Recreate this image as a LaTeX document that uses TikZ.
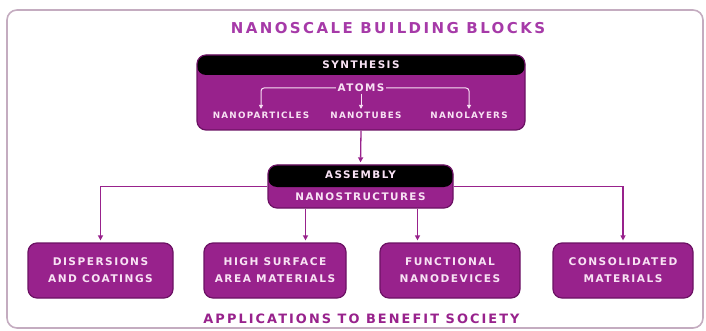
\documentclass[tikz,border=0pt]{standalone}
\usepackage{fontspec}
\setmainfont{DejaVu Sans}
\newfontfamily\blockfont[LetterSpace=14]{DejaVu Sans}
\newfontfamily\titlefont[LetterSpace=16]{DejaVu Sans}
\usetikzlibrary{arrows.meta}
\definecolor{nanopurple}{RGB}{152,34,140}
\definecolor{nanodark}{RGB}{108,18,100}
\definecolor{nanopale}{RGB}{248,226,244}
\definecolor{nanoframe}{RGB}{196,172,192}
\definecolor{nanotitle}{RGB}{166,58,168}
\tikzset{
  stage/.style={draw=nanodark,line width=1.2pt,fill=nanopurple,rounded corners=9pt,inner sep=0pt},
  band/.style={path picture={\fill[black] (path picture bounding box.north west) rectangle ([yshift=-#1]path picture bounding box.north east);}},
  lbl/.style={text=nanopale,inner sep=1.5pt,font=\blockfont\bfseries\fontsize{8.8}{10}\selectfont},
  headlbl/.style={lbl,font=\blockfont\bfseries\fontsize{10.4}{12}\selectfont},
  app/.style={stage,minimum width=#1,minimum height=55pt,align=center,text=nanopale,
    font=\blockfont\bfseries\fontsize{10.6}{17}\selectfont},
  conn/.style={draw=nanopurple,line width=1.3pt,shorten >=2pt,-{Triangle[length=5pt,width=5pt]}},
  inconn/.style={draw=nanopale,line width=1pt,rounded corners=3pt,shorten >=1pt,-{Triangle[length=4pt,width=4pt]}}
}
\begin{document}
\begin{tikzpicture}[x=1pt,y=-1pt]
\useasboundingbox (0,0) rectangle (706,331);
\draw[nanoframe,line width=1.6pt,rounded corners=10pt] (7,10) rectangle (703,328);
\node[text=nanotitle,font=\titlefont\bfseries\fontsize{15}{18}\selectfont] (title) at (388,28) {NANOSCALE BUILDING BLOCKS};

\node[stage,band=20pt,minimum width=328pt,minimum height=75pt] (synth) at (361,92.5) {};
\node[headlbl] (synthhead) at (361,65) {SYNTHESIS};
\node[headlbl] (atoms) at (361,88) {ATOMS};
\node[lbl] (particles) at (261,115) {NANOPARTICLES};
\node[lbl] (tubes) at (366,115) {NANOTUBES};
\node[lbl] (layers) at (469,115) {NANOLAYERS};
\draw[inconn] (atoms.west) -| (particles.north);
\draw[inconn] (atoms.south) -- (atoms.south |- tubes.north);
\draw[inconn] (atoms.east) -| (layers.north);

\node[stage,band=22pt,minimum width=185pt,minimum height=43pt] (asm) at (360.5,186.5) {};
\node[headlbl] (asmhead) at (360.5,175) {ASSEMBLY};
\node[headlbl] (structures) at (360.5,197) {NANOSTRUCTURES};
\draw[conn] (synth.south) -- (asm.north);

\node[app=145pt] (disp) at (100.5,270.5) {DISPERSIONS\\AND COATINGS};
\node[app=142pt] (hsa) at (275,270.5) {HIGH SURFACE\\AREA MATERIALS};
\node[app=140pt] (func) at (450,270.5) {FUNCTIONAL\\NANODEVICES};
\node[app=140pt] (cons) at (623,270.5) {CONSOLIDATED\\MATERIALS};

\draw[conn] (asm.west) -| (disp.north);
\draw[conn] (asm.east) -| (cons.north);
\draw[conn] ([xshift=-55pt]asm.south) -- ([xshift=-55pt]asm.south |- hsa.north);
\draw[conn] ([xshift=57pt]asm.south) -- ([xshift=57pt]asm.south |- func.north);

\node[text=nanopurple,font=\titlefont\bfseries\fontsize{12.9}{15}\selectfont] (society) at (361.5,319) {APPLICATIONS TO BENEFIT SOCIETY};
\end{tikzpicture}
\end{document}
